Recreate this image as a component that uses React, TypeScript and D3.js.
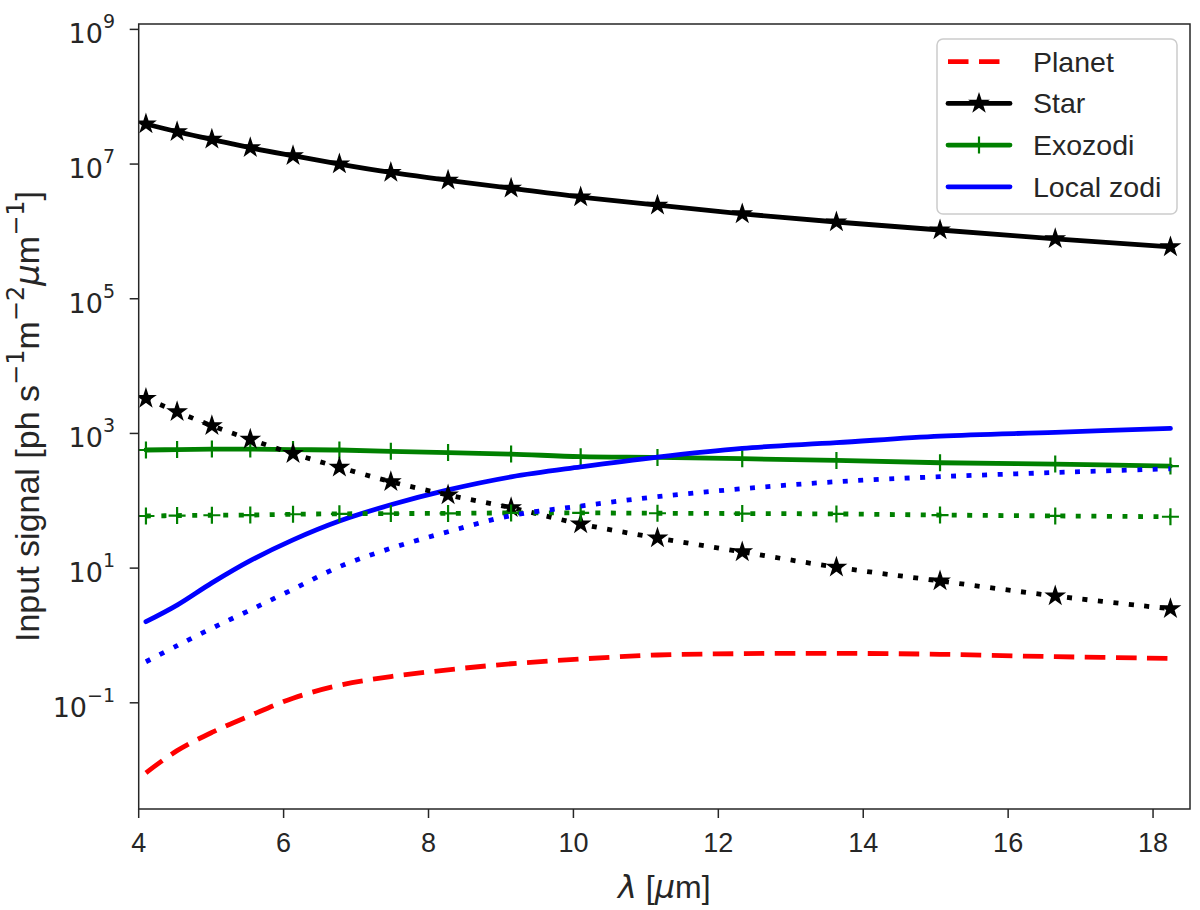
import { useRef, useEffect } from "react";
import * as d3 from "d3";

// wavelength grid [um] (read at the marker positions)
const wavelengths = [4.1, 4.53, 5.01, 5.54, 6.13, 6.77, 7.48, 8.27, 9.14, 10.1, 11.16, 12.33, 13.63, 15.06, 16.65, 18.24];

// input signal [ph s^-1 m^-2 um^-1]
const planet = [0.00912, 0.0195, 0.0363, 0.0646, 0.117, 0.182, 0.245, 0.309, 0.38, 0.447, 0.513, 0.537, 0.543, 0.525, 0.484, 0.457];
const star = [3.93e7, 3.02e7, 2.33e7, 1.75e7, 1.33e7, 1.0e7, 7.5e6, 5.75e6, 4.37e6, 3.24e6, 2.45e6, 1.82e6, 1.38e6, 1.05e6, 7.76e5, 5.89e5];
const starLeak = [3310, 2100, 1300, 817, 501, 314, 192, 122, 78.9, 45.2, 28.0, 17.4, 10.3, 6.43, 3.85, 2.49];
const exozodi = [568, 575, 586, 586, 575, 568, 542, 519, 494, 451, 441, 422, 398, 367, 351, 328];
const exozodiLeak = [59.4, 60.3, 61.0, 61.4, 63.1, 64.0, 64.6, 65.0, 66.1, 66.1, 65.3, 64.6, 63.8, 61.4, 59.6, 57.9];
const localZodi = [1.6, 2.82, 6.03, 12.9, 26.3, 50.1, 87.1, 145, 226, 318, 445, 600, 728, 912, 1038, 1191];
const localZodiLeak = [0.407, 0.705, 1.28, 2.39, 4.85, 10.5, 19.7, 34.7, 60.3, 83.6, 115, 151, 192, 228, 263, 299];

const xTicks = [4, 6, 8, 10, 12, 14, 16, 18];
const yTickExponents = [-1, 1, 3, 5, 7, 9];
const legendLabels = ["Planet", "Star", "Exozodi", "Local zodi"];

const FONT = "'Liberation Sans', Arial, sans-serif";
const MATH = "'DejaVu Sans', sans-serif";
const INK = "#262626";
const DOT = "5,10.5";
const DASH = "20.5,10.5";

type Series = { values: number[]; color: string; dash: string | null; marker: "star" | "plus" | null };

const series: Series[] = [
  { values: planet, color: "#ff0000", dash: DASH, marker: null },
  { values: star, color: "#000000", dash: null, marker: "star" },
  { values: exozodi, color: "#008000", dash: null, marker: "plus" },
  { values: localZodi, color: "#0000ff", dash: null, marker: null },
  { values: starLeak, color: "#000000", dash: DOT, marker: "star" },
  { values: exozodiLeak, color: "#008000", dash: DOT, marker: "plus" },
  { values: localZodiLeak, color: "#0000ff", dash: DOT, marker: null },
];

export default function App() {
  const svgRef = useRef<SVGSVGElement | null>(null);

  useEffect(() => {
    const width = 1200;
    const height = 910;
    const margin = { top: 24, right: 10, bottom: 101, left: 138.7 };

    const x = d3
      .scaleLinear()
      .domain([4, 18.51])
      .range([margin.left, width - margin.right]);

    const y = d3
      .scaleLog()
      .domain([Math.pow(10, -2.577), Math.pow(10, 9.08)])
      .range([height - margin.bottom, margin.top]);

    const svg = d3.select(svgRef.current);
    svg.selectAll("*").remove();

    svg
      .append("defs")
      .append("clipPath")
      .attr("id", "plot-clip")
      .append("rect")
      .attr("x", margin.left)
      .attr("y", margin.top)
      .attr("width", width - margin.left - margin.right)
      .attr("height", height - margin.top - margin.bottom);

    const starPath = d3.symbol().type(d3.symbolStar).size(92)();
    const plusPath = "M-8.5,0H8.5M0,-8.5V8.5";

    const drawMarker = (g: d3.Selection<SVGGElement, unknown, null, undefined>, kind: string, color: string, cx: number, cy: number) => {
      if (kind === "star") {
        g.append("path")
          .attr("d", starPath)
          .attr("transform", `translate(${cx},${cy})`)
          .attr("fill", color)
          .attr("stroke", color)
          .attr("stroke-width", 1.5)
          .attr("stroke-linejoin", "miter");
      } else if (kind === "plus") {
        g.append("path")
          .attr("d", plusPath)
          .attr("transform", `translate(${cx},${cy})`)
          .attr("fill", "none")
          .attr("stroke", color)
          .attr("stroke-width", 2.2);
      }
    };

    const line = d3
      .line<number>()
      .x((_, i) => x(wavelengths[i]))
      .y((d) => y(d))
      .curve(d3.curveCatmullRom.alpha(0.5));

    const plot = svg.append("g").attr("clip-path", "url(#plot-clip)");

    series.forEach((s) => {
      const g = plot.append("g");
      g.append("path")
        .attr("d", line(s.values))
        .attr("fill", "none")
        .attr("stroke", s.color)
        .attr("stroke-width", 4.8)
        .attr("stroke-dasharray", s.dash)
        .attr("stroke-linecap", s.dash ? "butt" : "round");
      if (s.marker) {
        s.values.forEach((v, i) => drawMarker(g, s.marker as string, s.color, x(wavelengths[i]), y(v)));
      }
    });

    // frame
    svg
      .append("rect")
      .attr("x", margin.left)
      .attr("y", margin.top)
      .attr("width", width - margin.left - margin.right)
      .attr("height", height - margin.top - margin.bottom)
      .attr("fill", "none")
      .attr("stroke", INK)
      .attr("stroke-width", 1.5);

    // x axis
    const xAxis = svg.append("g");
    xTicks.forEach((t) => {
      xAxis
        .append("line")
        .attr("x1", x(t))
        .attr("x2", x(t))
        .attr("y1", height - margin.bottom)
        .attr("y2", height - margin.bottom + 9)
        .attr("stroke", INK)
        .attr("stroke-width", 1.5);
      xAxis
        .append("text")
        .attr("x", x(t))
        .attr("y", 852)
        .attr("text-anchor", "middle")
        .attr("font-family", FONT)
        .attr("font-size", 27)
        .attr("fill", INK)
        .text(t);
    });

    // y axis (mathtext labels)
    const yAxis = svg.append("g");
    yTickExponents.forEach((e) => {
      const yy = y(Math.pow(10, e));
      yAxis
        .append("line")
        .attr("x1", margin.left - 9)
        .attr("x2", margin.left)
        .attr("y1", yy)
        .attr("y2", yy)
        .attr("stroke", INK)
        .attr("stroke-width", 1.5);
      const t = yAxis
        .append("text")
        .attr("x", 115)
        .attr("y", yy + 14)
        .attr("text-anchor", "end")
        .attr("font-family", MATH)
        .attr("font-size", 27)
        .attr("fill", INK);
      t.append("tspan").text("10");
      t.append("tspan")
        .attr("dy", -15)
        .attr("font-size", 19)
        .text(e < 0 ? `\u2212${-e}` : `${e}`);
    });

    // axis labels
    const xl = svg
      .append("text")
      .attr("x", (margin.left + width - margin.right) / 2)
      .attr("y", 898)
      .attr("text-anchor", "middle")
      .attr("font-family", FONT)
      .attr("font-size", 32)
      .attr("fill", INK);
    xl.append("tspan").attr("font-family", MATH).attr("font-style", "italic").text("\u03bb");
    xl.append("tspan").text(" [");
    xl.append("tspan").attr("font-family", MATH).attr("font-style", "italic").text("\u03bc");
    xl.append("tspan").text("m]");

    const yl = svg
      .append("text")
      .attr("transform", `translate(39,${(margin.top + height - margin.bottom) / 2}) rotate(-90)`)
      .attr("text-anchor", "middle")
      .attr("font-family", FONT)
      .attr("font-size", 34)
      .attr("fill", INK);
    yl.append("tspan").text("Input signal [ph s");
    yl.append("tspan").attr("font-family", MATH).attr("font-size", 24).attr("dy", -15).text("\u22121");
    yl.append("tspan").attr("dy", 15).text("m");
    yl.append("tspan").attr("font-family", MATH).attr("font-size", 24).attr("dy", -15).text("\u22122");
    yl.append("tspan").attr("font-family", MATH).attr("font-style", "italic").attr("dy", 15).text("\u03bc");
    yl.append("tspan").text("m");
    yl.append("tspan").attr("font-family", MATH).attr("font-size", 24).attr("dy", -15).text("\u22121");
    yl.append("tspan").attr("dy", 15).text("]");

    // legend
    const legend = svg.append("g");
    legend
      .append("rect")
      .attr("x", 937)
      .attr("y", 39)
      .attr("width", 240)
      .attr("height", 175)
      .attr("rx", 6)
      .attr("fill", "#ffffff")
      .attr("fill-opacity", 0.8)
      .attr("stroke", "#cccccc")
      .attr("stroke-width", 1.5);

    const legendSeries = series.slice(0, 4);
    legendLabels.forEach((label, i) => {
      const s = legendSeries[i];
      const cy = 61.7 + i * 41.7;
      const g = legend.append("g");
      g.append("line")
        .attr("x1", 948)
        .attr("x2", 1010)
        .attr("y1", cy)
        .attr("y2", cy)
        .attr("stroke", s.color)
        .attr("stroke-width", 4.8)
        .attr("stroke-dasharray", s.dash)
        .attr("stroke-linecap", s.dash ? "butt" : "round");
      if (s.marker) drawMarker(g, s.marker, s.color, 979, cy);
      g.append("text")
        .attr("x", 1033)
        .attr("y", cy + 10)
        .attr("font-family", FONT)
        .attr("font-size", 28.5)
        .attr("fill", INK)
        .text(label);
    });
  }, []);

  return (
    <svg
      ref={svgRef}
      width={1200}
      height={910}
      viewBox="0 0 1200 910"
      style={{ position: "absolute", left: 0, top: 0, background: "#ffffff" }}
    ></svg>
  );
}
